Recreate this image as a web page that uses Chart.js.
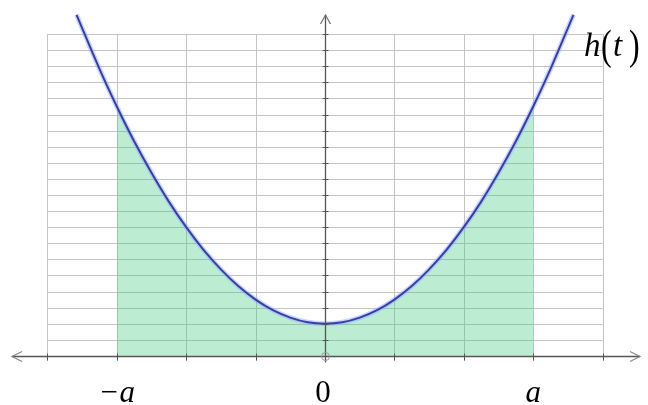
<!DOCTYPE html>
<html>
<head>
<meta charset="utf-8">
<script src="https://cdn.jsdelivr.net/npm/chart.js@4/dist/chart.umd.min.js"></script>
<style>
html,body{margin:0;padding:0;background:#fff;}
#wrap{width:648px;height:405px;position:relative;}
</style>
</head>
<body>
<div id="wrap"><canvas id="c"></canvas></div>
<script>
// ---- data ----
const tValues = [-3.58,-3.25,-3,-2.75,-2.5,-2.25,-2,-1.75,-1.5,-1.25,-1,-0.75,-0.5,-0.25,0,0.25,0.5,0.75,1,1.25,1.5,1.75,2,2.25,2.5,2.75,3,3.25,3.58];
const hValues = [21.2,17.84,15.5,13.34,11.38,9.59,8.0,6.59,5.38,4.34,3.5,2.84,2.38,2.09,2.0,2.09,2.38,2.84,3.5,4.34,5.38,6.59,8.0,9.59,11.38,13.34,15.5,17.84,21.2];
const shadeFrom = -3, shadeTo = 3;
const xGrid = [-4,-3,-2,-1,0,1,2,3,4];
const yGrid = [0,1,2,3,4,5,6,7,8,9,10,11,12,13,14,15,16,17,18,19,20];
const xLabelValues = [-3, 0, 3];
const xLabelTexts = ['\u2212a', '0', 'a'];
const curveLabel = 'h(t)';

const curvePts = tValues.map((t,i)=>({x:t,y:hValues[i]}));
const shadePts = curvePts.filter(p=>p.x>=shadeFrom && p.x<=shadeTo);

const gridPlugin = {
  id:'gridPlugin',
  beforeDatasetsDraw(chart){
    const {ctx, scales:{x,y}} = chart;
    const x0 = x.getPixelForValue(xGrid[0]), x1 = x.getPixelForValue(xGrid[xGrid.length-1]);
    const y0 = y.getPixelForValue(yGrid[0]), y1 = y.getPixelForValue(yGrid[yGrid.length-1]);
    ctx.save();
    ctx.strokeStyle = '#c4c4c4';
    ctx.lineWidth = 1;
    yGrid.forEach(v=>{
      const py = Math.round(y.getPixelForValue(v))+0.5;
      ctx.beginPath(); ctx.moveTo(x0,py); ctx.lineTo(x1,py); ctx.stroke();
    });
    xGrid.forEach(v=>{
      const px = Math.round(x.getPixelForValue(v))+0.5;
      ctx.beginPath(); ctx.moveTo(px,y1); ctx.lineTo(px,y0+5); ctx.stroke();
    });
    ctx.restore();
  },
  afterDatasetsDraw(chart){
    const {ctx, scales:{x,y}} = chart;
    const ax = Math.round(x.getPixelForValue(0))+0.5;
    const ay = Math.round(y.getPixelForValue(0))+0.5;
    ctx.save();
    ctx.strokeStyle = '#555';
    ctx.lineWidth = 1.3;
    ctx.beginPath(); ctx.moveTo(12,ay); ctx.lineTo(640,ay); ctx.stroke();
    ctx.lineWidth = 1.2;
    ctx.strokeStyle = '#888';
    ctx.beginPath(); ctx.moveTo(22,ay-5); ctx.lineTo(12,ay); ctx.lineTo(22,ay+5); ctx.stroke();
    ctx.beginPath(); ctx.moveTo(630,ay-5); ctx.lineTo(640,ay); ctx.lineTo(630,ay+5); ctx.stroke();
    ctx.strokeStyle = '#555';
    ctx.lineWidth = 1.3;
    ctx.beginPath(); ctx.moveTo(ax,ay+6); ctx.lineTo(ax,15); ctx.stroke();
    ctx.strokeStyle = '#777';
    ctx.beginPath(); ctx.moveTo(ax-5,24); ctx.lineTo(ax,15); ctx.lineTo(ax+5,24); ctx.stroke();
    ctx.strokeStyle = '#555';
    ctx.lineWidth = 1;
    yGrid.forEach(v=>{
      if(v===0) return;
      const py = Math.round(y.getPixelForValue(v))+0.5;
      ctx.beginPath(); ctx.moveTo(ax-3,py); ctx.lineTo(ax+3,py); ctx.stroke();
    });
    xGrid.forEach(v=>{
      const px = Math.round(x.getPixelForValue(v))+0.5;
      ctx.beginPath(); ctx.moveTo(px,ay-3); ctx.lineTo(px,ay+4); ctx.stroke();
    });
    ctx.strokeStyle = '#999';
    ctx.beginPath(); ctx.arc(ax,ay,4,0,Math.PI*2); ctx.stroke();
    ctx.fillStyle = '#000';
    ctx.textAlign = 'center';
    ctx.textBaseline = 'alphabetic';
    xLabelValues.forEach((v,i)=>{
      const px = x.getPixelForValue(v);
      const txt = xLabelTexts[i];
      ctx.font = (txt==='0' ? '' : 'italic ') + '31px "Liberation Serif", serif';
      ctx.fillText(txt, px - (txt==='0'?2:0), 402);
    });
    ctx.textAlign = 'left';
    ctx.font = 'italic 33px "Liberation Serif", serif';
    ctx.fillText(curveLabel[0], 584, 56);
    ctx.fillText(curveLabel[2], 613, 56);
    ctx.save();
    ctx.font = '32px "Liberation Serif", serif';
    ctx.translate(0, 59);
    ctx.scale(1, 1.3);
    ctx.fillText(curveLabel[1], 601, 0);
    ctx.fillText(curveLabel[3], 629, 0);
    ctx.restore();
    ctx.restore();
  }
};

new Chart(document.getElementById('c'), {
  type:'scatter',
  data:{
    datasets:[
      {
        data: shadePts,
        showLine:true,
        fill:'origin',
        backgroundColor:'rgba(60,200,120,0.34)',
        borderWidth:0,
        borderColor:'rgba(0,0,0,0)',
        pointRadius:0,
        tension:0.4,
        order:3
      },
      {
        data: curvePts,
        showLine:true,
        fill:false,
        borderColor:'rgba(140,180,255,0.5)',
        borderWidth:5,
        pointRadius:0,
        tension:0.4,
        order:2
      },
      {
        data: curvePts,
        showLine:true,
        fill:false,
        borderColor:'#3d3aa8',
        borderWidth:2,
        pointRadius:0,
        tension:0.4,
        order:1
      }
    ]
  },
  options:{
    responsive:true,
    maintainAspectRatio:false,
    animation:false,
    layout:{padding:0},
    plugins:{legend:{display:false}, tooltip:{enabled:false}},
    scales:{
      x:{type:'linear', display:false, min:-4.683, max:4.654},
      y:{type:'linear', display:false, min:-3.05, max:22.12}
    }
  },
  plugins:[gridPlugin]
});
</script>
</body>
</html>
